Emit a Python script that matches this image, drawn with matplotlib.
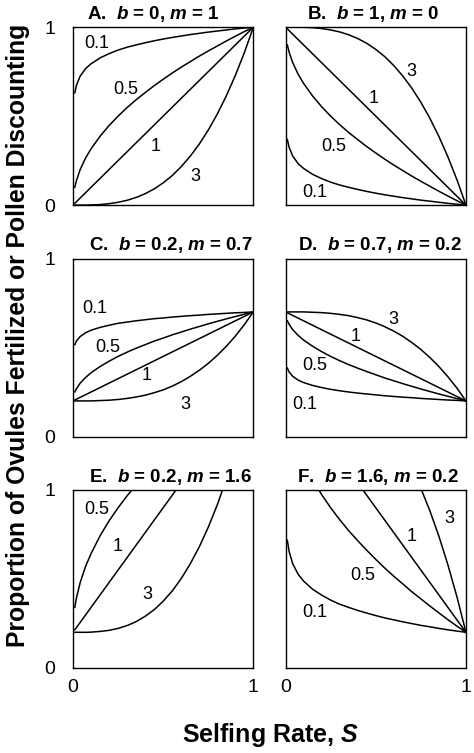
import matplotlib
matplotlib.use("Agg")
from matplotlib import pyplot as plt

plt.rcParams["font.family"] = ["Liberation Sans", "DejaVu Sans"]
plt.rcParams["mathtext.fontset"] = "custom"
plt.rcParams["mathtext.it"] = "Liberation Sans:italic:bold"
plt.rcParams["mathtext.rm"] = "Liberation Sans:bold"

selfing = [0.01, 0.02, 0.04, 0.07, 0.1, 0.15, 0.2, 0.25, 0.3, 0.35, 0.4, 0.45,
           0.5, 0.55, 0.6, 0.65, 0.7, 0.75, 0.8, 0.85, 0.9, 0.95, 1.0]

# A. b = 0, m = 1
a_01 = [0.631, 0.676, 0.725, 0.767, 0.794, 0.827, 0.851, 0.871, 0.887, 0.900, 0.912, 0.923, 0.933, 0.942, 0.950, 0.958, 0.965, 0.972, 0.978, 0.984, 0.990, 0.995, 1.000]
a_05 = [0.100, 0.141, 0.200, 0.265, 0.316, 0.387, 0.447, 0.500, 0.548, 0.592, 0.632, 0.671, 0.707, 0.742, 0.775, 0.806, 0.837, 0.866, 0.894, 0.922, 0.949, 0.975, 1.000]
a_1 = [0.010, 0.020, 0.040, 0.070, 0.100, 0.150, 0.200, 0.250, 0.300, 0.350, 0.400, 0.450, 0.500, 0.550, 0.600, 0.650, 0.700, 0.750, 0.800, 0.850, 0.900, 0.950, 1.000]
a_3 = [0.000, 0.000, 0.000, 0.000, 0.001, 0.003, 0.008, 0.016, 0.027, 0.043, 0.064, 0.091, 0.125, 0.166, 0.216, 0.275, 0.343, 0.422, 0.512, 0.614, 0.729, 0.857, 1.000]

# B. b = 1, m = 0
b_01 = [0.369, 0.324, 0.275, 0.233, 0.206, 0.173, 0.149, 0.129, 0.113, 0.100, 0.088, 0.077, 0.067, 0.058, 0.050, 0.042, 0.035, 0.028, 0.022, 0.016, 0.010, 0.005, 0.000]
b_05 = [0.900, 0.859, 0.800, 0.735, 0.684, 0.613, 0.553, 0.500, 0.452, 0.408, 0.368, 0.329, 0.293, 0.258, 0.225, 0.194, 0.163, 0.134, 0.106, 0.078, 0.051, 0.025, 0.000]
b_1 = [0.990, 0.980, 0.960, 0.930, 0.900, 0.850, 0.800, 0.750, 0.700, 0.650, 0.600, 0.550, 0.500, 0.450, 0.400, 0.350, 0.300, 0.250, 0.200, 0.150, 0.100, 0.050, 0.000]
b_3 = [1.000, 1.000, 1.000, 1.000, 0.999, 0.997, 0.992, 0.984, 0.973, 0.957, 0.936, 0.909, 0.875, 0.834, 0.784, 0.725, 0.657, 0.578, 0.488, 0.386, 0.271, 0.143, 0.000]

# C. b = 0.2, m = 0.7
c_01 = [0.516, 0.538, 0.562, 0.583, 0.597, 0.613, 0.625, 0.636, 0.643, 0.650, 0.656, 0.662, 0.666, 0.671, 0.675, 0.679, 0.682, 0.686, 0.689, 0.692, 0.695, 0.697, 0.700]
c_05 = [0.250, 0.270, 0.300, 0.332, 0.358, 0.393, 0.423, 0.450, 0.474, 0.496, 0.516, 0.536, 0.553, 0.571, 0.587, 0.603, 0.618, 0.633, 0.647, 0.661, 0.674, 0.687, 0.700]
c_1 = [0.205, 0.210, 0.220, 0.235, 0.250, 0.275, 0.300, 0.325, 0.350, 0.375, 0.400, 0.425, 0.450, 0.475, 0.500, 0.525, 0.550, 0.575, 0.600, 0.625, 0.650, 0.675, 0.700]
c_3 = [0.200, 0.200, 0.200, 0.200, 0.200, 0.202, 0.204, 0.208, 0.214, 0.222, 0.232, 0.246, 0.262, 0.283, 0.308, 0.338, 0.372, 0.411, 0.456, 0.507, 0.564, 0.629, 0.700]

# D. b = 0.7, m = 0.2
d_01 = [0.385, 0.362, 0.338, 0.317, 0.303, 0.287, 0.275, 0.265, 0.257, 0.250, 0.244, 0.239, 0.234, 0.229, 0.225, 0.221, 0.218, 0.214, 0.211, 0.208, 0.205, 0.203, 0.200]
d_05 = [0.650, 0.630, 0.600, 0.568, 0.542, 0.507, 0.477, 0.450, 0.426, 0.404, 0.384, 0.365, 0.347, 0.329, 0.313, 0.297, 0.282, 0.267, 0.253, 0.239, 0.226, 0.213, 0.200]
d_1 = [0.695, 0.690, 0.680, 0.665, 0.650, 0.625, 0.600, 0.575, 0.550, 0.525, 0.500, 0.475, 0.450, 0.425, 0.400, 0.375, 0.350, 0.325, 0.300, 0.275, 0.250, 0.225, 0.200]
d_3 = [0.700, 0.700, 0.700, 0.700, 0.700, 0.698, 0.696, 0.692, 0.686, 0.679, 0.668, 0.655, 0.638, 0.617, 0.592, 0.563, 0.528, 0.489, 0.444, 0.393, 0.336, 0.272, 0.200]

# E. b = 0.2, m = 1.6 (the 0.1 curve lies above the frame)
e_05 = [0.340, 0.397, 0.480, 0.571, 0.642, 0.742, 0.826, 0.900, 0.967, 1.029, 1.085, 1.139, 1.190, 1.239, 1.285, 1.328, 1.372, 1.412, 1.452, 1.491, 1.529, 1.565, 1.600]
e_1 = [0.214, 0.228, 0.256, 0.298, 0.340, 0.410, 0.480, 0.550, 0.620, 0.690, 0.760, 0.830, 0.900, 0.970, 1.040, 1.110, 1.180, 1.250, 1.320, 1.390, 1.460, 1.530, 1.600]
e_3 = [0.200, 0.200, 0.200, 0.200, 0.201, 0.205, 0.211, 0.222, 0.238, 0.260, 0.290, 0.327, 0.375, 0.432, 0.502, 0.585, 0.680, 0.791, 0.917, 1.060, 1.221, 1.400, 1.600]

# F. b = 1.6, m = 0.2
f_01 = [0.717, 0.654, 0.585, 0.526, 0.488, 0.442, 0.409, 0.381, 0.358, 0.340, 0.323, 0.308, 0.294, 0.281, 0.270, 0.259, 0.249, 0.239, 0.231, 0.222, 0.214, 0.207, 0.200]
f_05 = [1.460, 1.403, 1.320, 1.229, 1.158, 1.058, 0.974, 0.900, 0.833, 0.771, 0.715, 0.661, 0.610, 0.561, 0.515, 0.472, 0.428, 0.388, 0.348, 0.309, 0.271, 0.235, 0.200]
f_1 = [1.586, 1.572, 1.544, 1.502, 1.460, 1.390, 1.320, 1.250, 1.180, 1.110, 1.040, 0.970, 0.900, 0.830, 0.760, 0.690, 0.620, 0.550, 0.480, 0.410, 0.340, 0.270, 0.200]
f_3 = [1.600, 1.600, 1.600, 1.600, 1.599, 1.595, 1.589, 1.578, 1.562, 1.540, 1.510, 1.473, 1.425, 1.368, 1.298, 1.215, 1.120, 1.009, 0.883, 0.740, 0.579, 0.400, 0.200]

titles = [
    "A.  $b$ = 0, $m$ = 1",
    "B.  $b$ = 1, $m$ = 0",
    "C.  $b$ = 0.2, $m$ = 0.7",
    "D.  $b$ = 0.7, $m$ = 0.2",
    "E.  $b$ = 0.2, $m$ = 1.6",
    "F.  $b$ = 1.6, $m$ = 0.2",
]

panels = [
    {"0.1": a_01, "0.5": a_05, "1": a_1, "3": a_3},
    {"0.1": b_01, "0.5": b_05, "1": b_1, "3": b_3},
    {"0.1": c_01, "0.5": c_05, "1": c_1, "3": c_3},
    {"0.1": d_01, "0.5": d_05, "1": d_1, "3": d_3},
    {"0.5": e_05, "1": e_1, "3": e_3},
    {"0.1": f_01, "0.5": f_05, "1": f_1, "3": f_3},
]

# where the curve labels sit, in data coordinates
label_pos = [
    {"0.1": (0.13, 0.91), "0.5": (0.29, 0.65), "1": (0.46, 0.33), "3": (0.68, 0.16)},
    {"0.1": (0.16, 0.07), "0.5": (0.27, 0.33), "1": (0.49, 0.60), "3": (0.70, 0.75)},
    {"0.1": (0.12, 0.72), "0.5": (0.19, 0.50), "1": (0.41, 0.34), "3": (0.62, 0.18)},
    {"0.1": (0.105, 0.18), "0.5": (0.16, 0.40), "1": (0.39, 0.56), "3": (0.60, 0.66)},
    {"0.5": (0.13, 0.89), "1": (0.25, 0.68), "3": (0.41, 0.41)},
    {"0.1": (0.16, 0.31), "0.5": (0.43, 0.52), "1": (0.70, 0.74), "3": (0.91, 0.84)},
]

# horizontal centre of each panel title, as a fraction of the axes width
title_x = [0.447, 0.486, 0.542, 0.522, 0.539, 0.514]

fig, axes = plt.subplots(3, 2, figsize=(4.74, 7.53), dpi=100)
fig.subplots_adjust(left=0.154, right=0.983, top=0.964, bottom=0.113,
                    wspace=0.178, hspace=0.30)

for i, ax in enumerate(axes.flat):
    for key, ys in panels[i].items():
        ax.plot(selfing, ys, color="black", lw=1.1)
        lx, ly = label_pos[i][key]
        ax.text(lx, ly, key, fontsize=13, ha="center", va="center")
    ax.set_xlim(0, 1)
    ax.set_ylim(0, 1)
    ax.set_title(titles[i], fontsize=13.5, fontweight="bold", pad=6, x=title_x[i])
    for s in ax.spines.values():
        s.set_linewidth(1.0)
    ax.set_xticks([0, 1])
    ax.set_yticks([0, 1])
    ax.tick_params(length=0, labelsize=14)
    ax.tick_params(axis="y", pad=13)
    ax.tick_params(axis="x", pad=8)
    if i % 2 == 1:
        ax.set_yticklabels([])
    else:
        ax.set_yticklabels(["0", "1"])
    if i < 4:
        ax.set_xticklabels([])
    else:
        ax.set_xticklabels(["0", "1"])

fig.text(18 / 474, 1 - 335.5 / 753, "Proportion of Ovules Fertilized or Pollen Discounting",
         rotation=90, ha="center", va="center", fontsize=17.8, fontweight="bold")
fig.text(270 / 474, 1 - 735 / 753, "Selfing Rate, $S$",
         ha="center", va="center", fontsize=18, fontweight="bold")

fig.savefig("out.png", dpi=100)
